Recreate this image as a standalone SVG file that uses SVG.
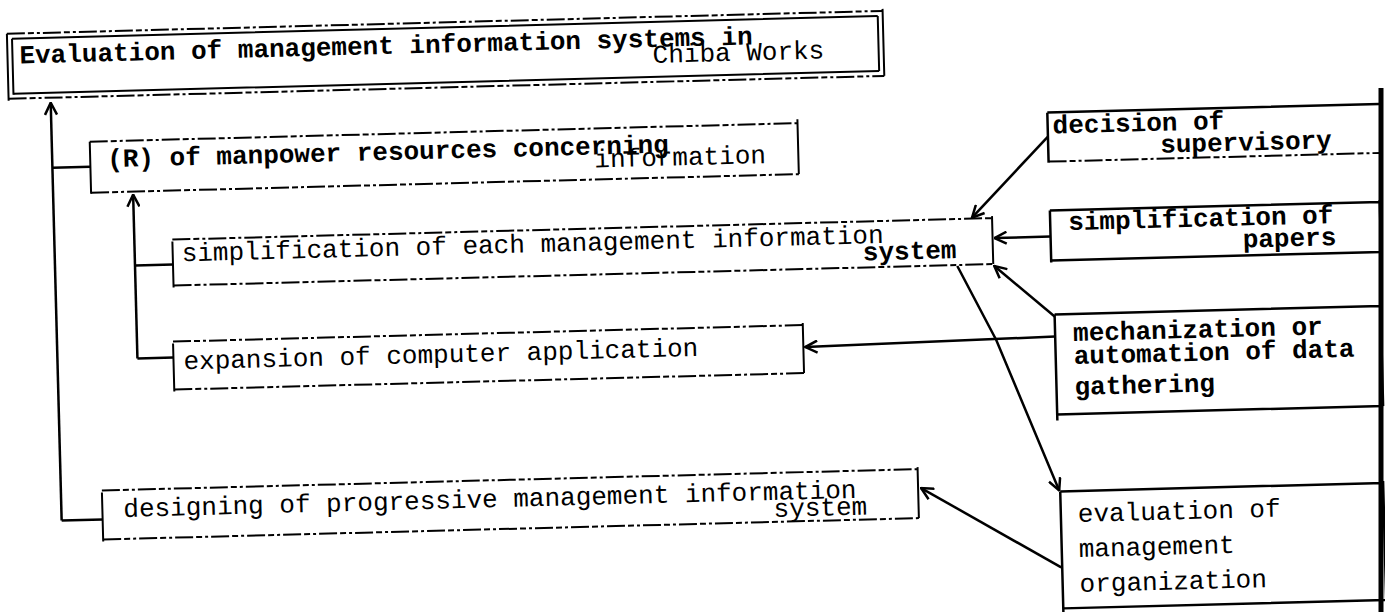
<svg xmlns="http://www.w3.org/2000/svg" width="1385" height="612" viewBox="0 0 1385 612">
<style>
  .t { font-family: "Liberation Mono", "DejaVu Sans Mono", monospace; font-size: 26px; fill: #000; }
  .b { font-weight: bold; }
  .box { fill: none; stroke: #000; stroke-width: 2.5; }
  .dash { fill: none; stroke: #000; stroke-width: 2; stroke-dasharray: 18 3 6 3 3 3; }
  .edge { fill: none; stroke: #000; stroke-width: 2; }
  .con { fill: none; stroke: #000; stroke-width: 2.5; }
</style>
<defs>
  <marker id="ah" viewBox="0 0 14 14" refX="13" refY="7" markerWidth="14" markerHeight="14" markerUnits="userSpaceOnUse" orient="auto">
    <path d="M1,1 L13,7 L1,13" fill="none" stroke="#000" stroke-width="2.5"/>
  </marker>
</defs>
<rect width="1385" height="612" fill="#fff"/>

<g transform="rotate(-1.5)">
<g id="title">
  <path class="dash" d="M6,34 H882 M6,99 H882"/>
  <path class="edge" d="M11,39 H877 M11,94 H877"/>
  <path class="edge" stroke-width="3" d="M6,34 V101 M11,39 V95 M877,39 V94 M882,32 V99"/>
  <text class="t b" x="18" y="64">Evaluation of management information systems in</text>
  <text class="t" x="651" y="80">Chiba Works</text>
</g>

<g id="manpower">
  <path class="dash" d="M86,144 H794 M86,195 H794"/>
  <path class="edge" d="M86,144 V196 M794,140 V195"/>
  <text class="t b" x="103" y="170">(R) of manpower resources concerning</text>
  <text class="t" x="590" y="183">information</text>
</g>

<g id="simplification">
  <path class="dash" d="M166,244 H986 M166,290 H986"/>
  <path class="edge" d="M166,246 V292 M986,242 V290"/>
  <text class="t" x="175" y="266">simplification of each management information</text>
  <text class="t b" x="856" y="283">system</text>
</g>

<g id="expansion">
  <path class="dash" d="M164,346 H794 M164,394 H794"/>
  <path class="edge" d="M164,348 V396 M794,344 V394"/>
  <text class="t" x="174" y="374">expansion of computer application</text>
</g>

<g id="designing">
  <path class="dash" d="M89,493 H905 M89,542 H905"/>
  <path class="edge" d="M89,495 V544 M905,491 V542"/>
  <text class="t" x="110" y="520">designing of progressive management information</text>
  <text class="t" x="760" y="537">system</text>
</g>

<g id="decision">
  <path class="box" d="M1044,140 H1376 M1044,140 V190"/>
  <path class="dash" d="M1044,189 H1376"/>
  <text class="t b" x="1049" y="161">decision of</text>
  <text class="t b" x="1156" y="183">supervisory</text>
</g>

<g id="papers">
  <path class="box" d="M1044,238 H1374 M1044,288 H1374 M1044,238 V290 M1374,236 V288"/>
  <text class="t b" x="1062" y="258">simplification of</text>
  <text class="t b" x="1236" y="280">papers</text>
</g>

<g id="mechanization">
  <path class="box" d="M1046,342 H1372 M1046,442 H1372 M1046,342 V448 M1372,340 V442"/>
  <text class="t b" x="1064" y="369">mechanization or</text>
  <text class="t b" x="1064" y="392">automation of data</text>
  <text class="t b" x="1064" y="423">gathering</text>
</g>

<g id="evaluation-org">
  <path class="box" d="M1047,519 H1370 M1047,636 H1370 M1047,519 V660 M1370,517 V636"/>
  <text class="t" x="1064" y="550">evaluation of</text>
  <text class="t" x="1064" y="585">management</text>
  <text class="t" x="1064" y="620">organization</text>
</g>

<g id="connectors">
  <path class="con" d="M48,522 V104" marker-end="url(#ah)"/>
  <path class="con" d="M48,522 H89"/>
  <path class="con" d="M48,169 H86"/>
  <path class="con" d="M128,362 V198" marker-end="url(#ah)"/>
  <path class="con" d="M128,269 H166"/>
  <path class="con" d="M128,362 H164"/>
  <path class="con" d="M1044,164 L966,243" marker-end="url(#ah)"/>
  <path class="con" d="M1044,264 L988,264" marker-end="url(#ah)"/>
  <path class="con" d="M1046,344 L987,292" marker-end="url(#ah)"/>
  <path class="con" d="M1046,364 L796,368" marker-end="url(#ah)"/>
  <path class="con" d="M950,291 L987,366 L1046,518" marker-end="url(#ah)"/>
  <path class="con" d="M1046,595 L908,512" marker-end="url(#ah)"/>
</g>
</g>

<path id="page-edge" d="M1381,88 V612" stroke="#000" stroke-width="5" fill="none"/>
</svg>
